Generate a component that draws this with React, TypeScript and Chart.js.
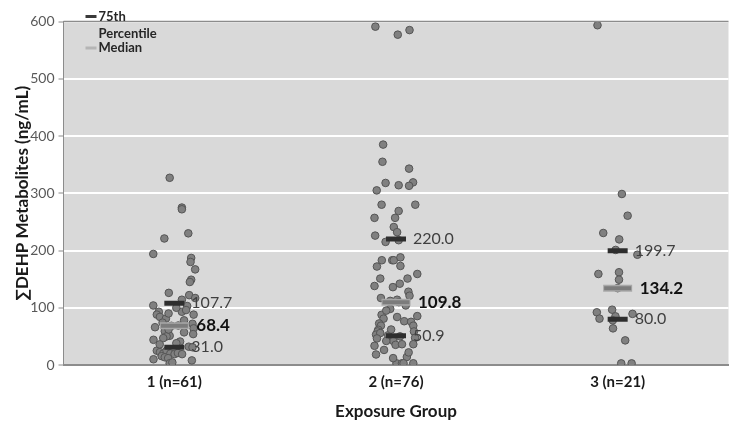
import React, { useEffect, useRef } from "react";
import { Chart, registerables } from "chart.js";
Chart.register(...registerables);

const categories = ["1 (n=61)", "2 (n=76)", "3 (n=21)"];
const groupPositions = [1, 2, 3];
const yTickValues = [0, 100, 200, 300, 400, 500, 600];

const g1Values = [327, 275, 272, 230, 221, 194, 187, 180, 167, 149, 145, 126, 122, 114, 117, 104, 103, 93, 88, 84, 81, 93, 88, 66, 72, 64, 59, 54, 51, 50, 44, 47, 41, 32, 31, 25, 22.5, 20, 25, 20, 19, 21, 19, 15.5, 13.5, 12, 10, 8, 3, 4.5, 100, 90, 78, 74, 69, 96, 68.4, 38, 36, 57, 62];
const g1Jitter = [-0.021, 0.034, 0.034, 0.063, -0.045, -0.095, 0.076, 0.073, 0.094, 0.076, 0.07, -0.025, 0.067, 0.034, 0.094, -0.095, 0.058, -0.07, -0.079, -0.065, -0.038, 0.034, 0.087, -0.087, 0.082, 0.087, -0.043, 0.085, -0.021, -0.035, -0.094, -0.05, 0.026, 0.065, 0.082, -0.079, -0.065, -0.05, -0.035, -0.018, 0.001, 0.016, 0.035, -0.057, -0.043, -0.028, -0.094, 0.079, -0.021, -0.009, 0.009, -0.026, 0.044, -0.053, 0.018, 0.053, -0.013, 0.009, -0.066, 0.044, -0.026];

const g2Values = [591, 577, 585, 385, 355, 343, 318, 314, 319, 313, 305, 280, 269, 280, 257, 257, 241, 232, 226, 215, 218, 172, 183, 183, 183, 188, 173, 159, 151, 138, 136, 142, 151, 128, 121, 117, 114, 112, 87.6, 81, 72.6, 68.7, 61.5, 58.6, 53, 55.8, 46.4, 33.5, 26.3, 18.4, 83.8, 76.5, 75.4, 85.4, 68.7, 58.6, 47.5, 36.3, 41.9, 35.2, 36.3, 14, 3, 3, 3, 3, 52, 50, 62, 98, 104, 95, 109.8, 42, 22, 12];
const g2Jitter = [-0.093, 0.008, 0.061, -0.058, -0.061, 0.059, -0.047, 0.012, 0.077, 0.059, -0.087, -0.065, 0.012, 0.087, -0.097, -0.004, -0.01, 0.005, -0.094, -0.047, 0.012, -0.086, -0.064, -0.017, -0.01, 0.02, 0.02, 0.096, -0.071, -0.097, -0.014, 0.017, 0.052, 0.056, 0.061, -0.068, 0.005, -0.026, -0.065, -0.056, -0.076, -0.068, -0.08, -0.083, -0.09, -0.071, -0.086, -0.097, -0.054, -0.09, 0.005, 0.037, 0.068, 0.096, 0.078, 0.081, 0.086, 0.078, -0.012, -0.002, 0.027, 0.049, 0.002, 0.027, 0.034, 0.078, -0.035, 0.018, -0.022, -0.026, 0.044, -0.044, 0.013, -0.044, 0.057, -0.013];

const g3Values = [593.5, 298.7, 260.8, 230.6, 219.4, 192.6, 159, 162, 149, 92, 96.6, 89.3, 81, 85, 64, 43, 2.8, 2.8, 201, 134.2, 78];
const g3Jitter = [-0.091, 0.019, 0.045, -0.065, 0.007, 0.089, -0.087, 0.006, 0.006, -0.094, -0.025, 0.067, -0.082, -0.01, -0.021, 0.034, 0.016, 0.063, -0.009, 0, -0.022];

const p25 = [31.0, 50.9, 80.0];
const medians = [68.4, 109.8, 134.2];
const p75 = [107.7, 220.0, 199.7];

const FONT = "Lato, 'Open Sans', sans-serif";

export default function App() {
  const ref = useRef<HTMLCanvasElement | null>(null);

  useEffect(() => {
    document.body.style.margin = "0";
    const canvas = ref.current;
    if (!canvas) return;

    const groups = [
      { v: g1Values, j: g1Jitter },
      { v: g2Values, j: g2Jitter },
      { v: g3Values, j: g3Jitter },
    ];
    const points: { x: number; y: number }[] = [];
    groups.forEach((g, gi) => {
      g.v.forEach((val, i) => points.push({ x: groupPositions[gi] + g.j[i], y: val }));
    });
    const statData = (arr: number[]) => arr.map((v, i) => ({ x: groupPositions[i], y: v }));

    const bgPlugin = {
      id: "plotBg",
      beforeDraw(chart: any) {
        const { ctx, chartArea: a } = chart;
        ctx.save();
        ctx.fillStyle = "#d9d9d9";
        ctx.fillRect(a.left, a.top, a.right - a.left, a.bottom - a.top);
        ctx.restore();
      },
      afterDraw(chart: any) {
        const { ctx, chartArea: a } = chart;
        ctx.save();
        ctx.strokeStyle = "#8c8c8c";
        ctx.lineWidth = 1.5;
        ctx.beginPath();
        ctx.moveTo(a.left, a.top);
        ctx.lineTo(a.right, a.top);
        ctx.stroke();
        // legend
        const lx = a.left + 22;
        ctx.lineWidth = 3;
        ctx.strokeStyle = "#3a3a3a";
        ctx.beginPath();
        ctx.moveTo(lx, 16.5);
        ctx.lineTo(lx + 11, 16.5);
        ctx.stroke();
        ctx.strokeStyle = "#b5b5b5";
        ctx.beginPath();
        ctx.moveTo(lx, 48);
        ctx.lineTo(lx + 11, 48);
        ctx.stroke();
        ctx.fillStyle = "#262626";
        ctx.font = `bold 13px ${FONT}`;
        ctx.textBaseline = "middle";
        ctx.textAlign = "left";
        ctx.fillText("75th", lx + 13, 17);
        ctx.fillText("Percentile", lx + 13, 33.5);
        ctx.fillText("Median", lx + 13, 48);
        ctx.restore();
      },
    };

    const labelPlugin = {
      id: "statLabels",
      afterDatasetsDraw(chart: any) {
        const { ctx, scales } = chart;
        const xs = scales.x;
        const ys = scales.y;
        ctx.save();
        ctx.textBaseline = "middle";
        ctx.textAlign = "left";
        groupPositions.forEach((gp, i) => {
          const px = xs.getPixelForValue(gp);
          ctx.font = `16px ${FONT}`;
          ctx.fillStyle = "#3f3f3f";
          ctx.fillText(p75[i].toFixed(1), px + 17, ys.getPixelForValue(p75[i]));
          ctx.fillText(p25[i].toFixed(1), px + 17, ys.getPixelForValue(p25[i]));
          ctx.font = `bold 17px ${FONT}`;
          ctx.fillStyle = "#111111";
          ctx.fillText(medians[i].toFixed(1), px + 22, ys.getPixelForValue(medians[i]));
        });
        ctx.restore();
      },
    };

    const chart = new Chart(canvas, {
      type: "scatter",
      data: {
        datasets: [
          {
            label: "75th",
            data: statData(p75),
            pointStyle: "line",
            pointRadius: 10,
            pointHoverRadius: 10,
            borderColor: "#2e2e2e",
            pointBorderWidth: 5,
            borderWidth: 5,
          } as any,
          {
            label: "25th",
            data: statData(p25),
            pointStyle: "line",
            pointRadius: 10,
            pointHoverRadius: 10,
            borderColor: "#2e2e2e",
            pointBorderWidth: 5,
            borderWidth: 5,
          } as any,
          {
            label: "MedianInner",
            data: statData(medians),
            pointStyle: "line",
            pointRadius: 13.5,
            pointHoverRadius: 13.5,
            borderColor: "#7c7c7c",
            pointBorderWidth: 4,
            borderWidth: 4,
          } as any,
          {
            label: "Median",
            data: statData(medians),
            pointStyle: "line",
            pointRadius: 14.5,
            pointHoverRadius: 14.5,
            borderColor: "#a8a8a8",
            pointBorderWidth: 7,
            borderWidth: 7,
          } as any,
          {
            label: "Points",
            data: points,
            pointRadius: 3.8,
            pointHoverRadius: 3.8,
            backgroundColor: "#808080",
            borderColor: "#555555",
            borderWidth: 1,
          },
        ],
      },
      options: {
        responsive: false,
        animation: false,
        events: [],
        layout: { padding: { top: 7, right: 3.5, left: 0, bottom: 0 } },
        plugins: {
          legend: { display: false },
          tooltip: { enabled: false },
        },
        scales: {
          x: {
            type: "linear",
            min: 0.5,
            max: 3.5,
            afterBuildTicks: (axis: any) => {
              axis.ticks = groupPositions.map((v) => ({ value: v }));
            },
            afterFit: (s: any) => {
              s.height = 61;
            },
            grid: { display: false, drawTicks: false },
            border: { display: true, color: "#8c8c8c", width: 2 },
            ticks: {
              padding: 8,
              color: "#1a1a1a",
              font: { family: FONT, size: 15, weight: "bold" },
              callback: (value: any) => {
                const idx = groupPositions.indexOf(Number(value));
                return idx >= 0 ? categories[idx] : "";
              },
            },
            title: {
              display: true,
              text: "Exposure Group",
              color: "#1a1a1a",
              font: { family: FONT, size: 17, weight: "bold" },
              padding: { top: 0, bottom: 4 },
            },
          },
          y: {
            min: 0,
            max: 600,
            afterBuildTicks: (axis: any) => {
              axis.ticks = yTickValues.map((v) => ({ value: v }));
            },
            afterFit: (s: any) => {
              s.width = 63.5;
            },
            grid: {
              color: "#ffffff",
              lineWidth: 2,
              tickColor: "#8c8c8c",
              tickLength: 5,
              tickWidth: 1,
            },
            border: { display: true, color: "#8c8c8c", width: 1 },
            ticks: {
              padding: 4,
              color: "#595959",
              font: { family: FONT, size: 14 },
            },
            title: {
              display: true,
              text: "∑DEHP Metabolites (ng/mL)",
              color: "#1a1a1a",
              font: { family: FONT, size: 17, weight: "bold" },
              padding: { top: 12, bottom: 0 },
            },
          },
        },
      },
      plugins: [bgPlugin, labelPlugin],
    } as any);

    return () => chart.destroy();
  }, []);

  return (
    <div style={{ width: 750, height: 426 }}>
      <canvas ref={ref} width={750} height={426} />
    </div>
  );
}
